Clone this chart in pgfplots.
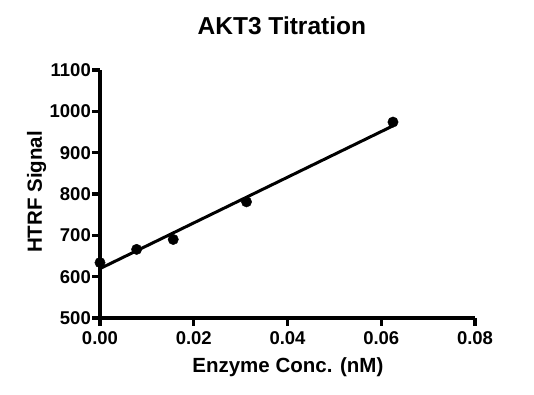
\documentclass[border=0pt]{standalone}
\usepackage{pgfplots}
\pgfplotsset{compat=1.18}
\usepackage{fontspec}
\setmainfont{Liberation Sans}
\begin{document}
\begin{tikzpicture}
\useasboundingbox (0,0) rectangle (534pt,395pt);
\begin{axis}[
  at={(100pt,77pt)}, anchor=south west,
  scale only axis, width=375pt, height=248pt,
  xmin=0, xmax=0.08, ymin=500, ymax=1100,
  xtick={0,0.02,0.04,0.06,0.08},
  ytick={500,600,700,800,900,1000,1100},
  axis x line*=bottom, axis y line*=left,
  axis line style={line width=3.3pt},
  every tick/.style={line width=3.3pt, black},
  major tick length=8pt,
  tick align=outside,
  scaled x ticks=false,
  clip=false,
  /pgf/number format/assume math mode=true,
  xticklabel style={/pgf/number format/fixed, /pgf/number format/fixed zerofill, /pgf/number format/precision=2, font=\bfseries\fontsize{18.5}{20}\selectfont, inner ysep=1pt, yshift=-4pt},
  yticklabel style={/pgf/number format/set thousands separator={}, font=\bfseries\fontsize{18.5}{20}\selectfont, inner xsep=1pt},
  title={AKT3 Titration},
  title style={font=\bfseries\fontsize{24.5}{27}\selectfont, at={(axis description cs:0.485,1.117)}, anchor=base},
  xlabel={Enzyme Conc. (nM)},
  xlabel style={font=\bfseries\fontsize{20.5}{24}\selectfont, at={(axis description cs:0.501,-0.218)}, anchor=base},
  ylabel={HTRF Signal},
  ylabel style={font=\bfseries\fontsize{20.5}{24}\selectfont, at={(axis description cs:-0.155,0.508)}, anchor=base, rotate=0},
]
\addplot[black, line width=3pt, no marks] coordinates {(0,619.5) (0.0625,964.9)};
\addplot[only marks, mark=*, mark size=5.2pt, black] coordinates {
(0,634) (0.0078125,666) (0.015625,690) (0.03125,781) (0.0625,974)};
\end{axis}
\end{tikzpicture}
\end{document}
